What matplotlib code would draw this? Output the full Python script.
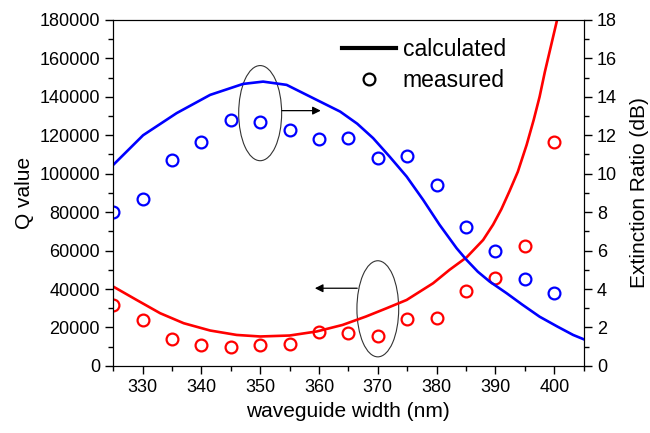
import matplotlib.pyplot as plt
from matplotlib.lines import Line2D
from matplotlib.patches import Ellipse
from matplotlib.ticker import MultipleLocator

plt.rcParams['font.family'] = ['Liberation Sans', 'DejaVu Sans']

# measured points
width_meas = [325, 330, 335, 340, 345, 350, 355, 360, 365, 370, 375, 380, 385, 390, 395, 400]
q_meas = [31700, 23700, 13800, 11000, 9700, 11000, 11300, 17700, 17300, 15800, 24500, 25000, 38800, 45500, 62600, 116600]
er_meas = [8.0, 8.7, 10.7, 11.65, 12.8, 12.7, 12.25, 11.8, 11.86, 10.8, 10.9, 9.4, 7.2, 6.0, 4.5, 3.8]

# calculated curves
width_q_calc = [325, 329, 333, 337, 341.5, 346, 350, 355, 359.6, 364, 368, 371.5, 374.9, 379.4,
                382.2, 385.1, 387.9, 389.6, 391, 392.4, 393.8, 395.3, 396.5, 397.5, 398.4,
                400.4, 402]
q_calc = [41300, 34300, 27400, 22200, 18400, 16100, 15300, 15800, 17900, 21300, 25700, 30000,
          34300, 43000, 50000, 56500, 65500, 73500, 81500, 91000, 101000, 115000, 128000,
          140000, 153000, 179000, 205000]

width_er_calc = [325, 330.1, 335.8, 341.5, 347.1, 350.5, 354.5, 359.6, 363.6, 366.5, 369.2,
                 372.0, 374.9, 377.7, 380.5, 383.4, 385.1, 387, 389.0, 391.9, 394.5, 397.5,
                 400.5, 403.2, 406]
er_calc = [10.45, 12.0, 13.15, 14.1, 14.67, 14.79, 14.62, 13.84, 13.23, 12.6, 11.85,
           10.89, 9.85, 8.64, 7.34, 6.12, 5.51, 4.9, 4.39, 3.78, 3.2, 2.56,
           2.05, 1.61, 1.26]

fig, ax = plt.subplots(figsize=(6.5, 4.33), dpi=100)
fig.subplots_adjust(left=0.174, right=0.898, bottom=0.155, top=0.954)
ax2 = ax.twinx()

ax.plot(width_q_calc, q_calc, color='#ff0000', lw=1.9)
ax.plot(width_meas, q_meas, 'o', mfc='none', mec='#ff0000', ms=8.5, mew=1.6)
ax2.plot(width_er_calc, er_calc, color='#0000ff', lw=1.9)
ax2.plot(width_meas, er_meas, 'o', mfc='none', mec='#0000ff', ms=8.5, mew=1.6)

ax.set_xlim(325, 405)
ax.set_ylim(0, 180000)
ax2.set_ylim(0, 18)

ax.xaxis.set_major_locator(MultipleLocator(10))
ax.xaxis.set_minor_locator(MultipleLocator(5))
ax.yaxis.set_major_locator(MultipleLocator(20000))
ax.yaxis.set_minor_locator(MultipleLocator(10000))
ax2.yaxis.set_major_locator(MultipleLocator(2))
ax2.yaxis.set_minor_locator(MultipleLocator(1))
ax.set_xticks(range(330, 401, 10))

for a in (ax, ax2):
    a.tick_params(which='major', direction='out', length=6, width=1, labelsize=13)
    a.tick_params(which='minor', direction='out', length=3.5, width=1)
ax.tick_params(top=False, which='both')

ax.set_xlabel('waveguide width (nm)', fontsize=15)
ax.set_ylabel('Q value', fontsize=15)
ax2.set_ylabel('Extinction Ratio (dB)', fontsize=15, labelpad=9)

# ellipses with arrows
ax.add_patch(Ellipse((350, 131500), 7.3, 49500, fill=False, ec='#333333', lw=0.8))
ax.annotate('', xy=(360.3, 132800), xytext=(353.7, 132800),
            arrowprops=dict(arrowstyle='-|>', color='black', lw=0.9, mutation_scale=12,
                            shrinkA=0, shrinkB=0))
ax.add_patch(Ellipse((370, 29700), 7.1, 50000, fill=False, ec='#333333', lw=0.8))
ax.annotate('', xy=(359.3, 40400), xytext=(366.5, 40400),
            arrowprops=dict(arrowstyle='-|>', color='black', lw=0.9, mutation_scale=12,
                            shrinkA=0, shrinkB=0))

handles = [Line2D([], [], color='black', lw=3),
           Line2D([], [], ls='none', marker='o', mfc='none', mec='black', ms=8.5, mew=1.6)]
ax2.legend(handles, ['calculated', 'measured'], loc='upper left', frameon=False,
           bbox_to_anchor=(0.486, 0.948), fontsize=16.5, handlelength=2.36,
           handletextpad=0.3, labelspacing=0.37, borderaxespad=0, borderpad=0)

fig.savefig('out.png', dpi=100)
